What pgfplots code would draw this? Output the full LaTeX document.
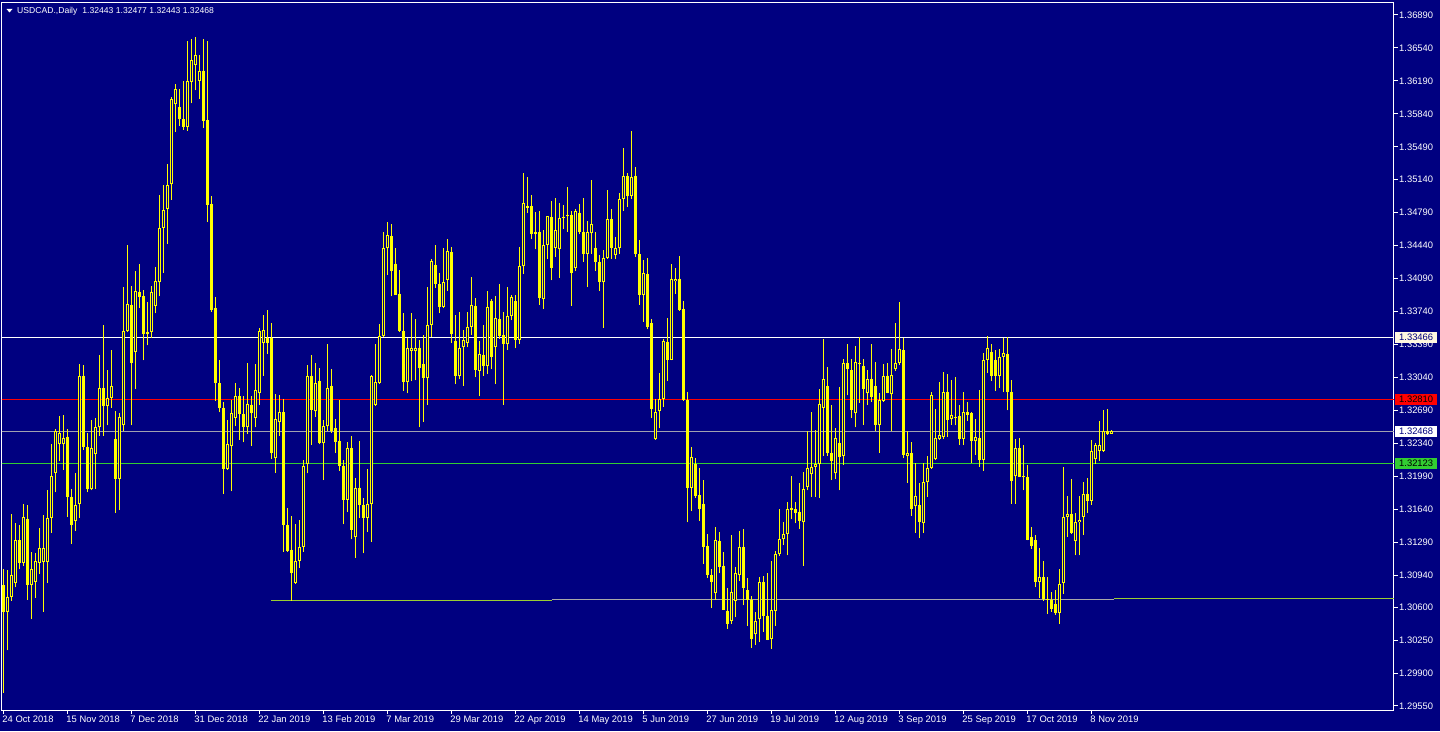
\documentclass[border=0pt]{standalone}
\usepackage{pgfplots}
\pgfplotsset{compat=1.18}
\usepackage{pgfplotstable}
\usepackage{fontspec}
\setmainfont{Liberation Sans}
\definecolor{bg}{HTML}{000080}
\definecolor{cyel}{HTML}{FFFF00}
\definecolor{lred}{HTML}{FF0000}
\definecolor{lgrey}{HTML}{A0A0B0}
\definecolor{lgreen}{HTML}{32CD32}
\definecolor{ygreen}{HTML}{9ACD32}
\definecolor{tgrey}{HTML}{A8A8A8}
\definecolor{cream}{HTML}{FFF8E0}

\pgfplotstableread{
i o h l c
0 1.3083 1.3100 1.2969 1.3055
1 1.3055 1.3099 1.3014 1.3071
2 1.3071 1.3159 1.3067 1.3094
3 1.3086 1.3149 1.3081 1.3131
4 1.3131 1.3147 1.3100 1.3107
5 1.3107 1.3170 1.3104 1.3156
6 1.3154 1.3169 1.3068 1.3084
7 1.3084 1.3119 1.3047 1.3101
8 1.3087 1.3117 1.3070 1.3109
9 1.3107 1.3144 1.3095 1.3123
10 1.3108 1.3158 1.3055 1.3123
11 1.3108 1.3184 1.3086 1.3155
12 1.3155 1.3233 1.3139 1.3199
13 1.3203 1.3249 1.3182 1.3247
14 1.3233 1.3263 1.3215 1.3245
15 1.3233 1.3264 1.3206 1.3240
16 1.3241 1.3249 1.3156 1.3177
17 1.3177 1.3186 1.3127 1.3147
18 1.3152 1.3202 1.3141 1.3169
19 1.3170 1.3318 1.3155 1.3306
20 1.3306 1.3317 1.3227 1.3230
21 1.3230 1.3245 1.3182 1.3186
22 1.3185 1.3259 1.3184 1.3229
23 1.3223 1.3261 1.3186 1.3251
24 1.3251 1.3328 1.3242 1.3293
25 1.3293 1.3360 1.3242 1.3274
26 1.3274 1.3312 1.3253 1.3282
27 1.3282 1.3333 1.3272 1.3295
28 1.3239 1.3268 1.3160 1.3196
29 1.3196 1.3266 1.3163 1.3262
30 1.3253 1.3400 1.3247 1.3353
31 1.3353 1.3445 1.3352 1.3382
32 1.3381 1.3401 1.3253 1.3319
33 1.3331 1.3417 1.3292 1.3396
34 1.3395 1.3425 1.3378 1.3389
35 1.3390 1.3397 1.3322 1.3350
36 1.3350 1.3384 1.3338 1.3352
37 1.3352 1.3401 1.3346 1.3395
38 1.3380 1.3421 1.3372 1.3406
39 1.3405 1.3498 1.3390 1.3463
40 1.3463 1.3508 1.3415 1.3482
41 1.3483 1.3531 1.3446 1.3508
42 1.3509 1.3602 1.3493 1.3600
43 1.3594 1.3616 1.3565 1.3610
44 1.3591 1.3610 1.3571 1.3579
45 1.3578 1.3619 1.3567 1.3570
46 1.3570 1.3661 1.3566 1.3619
47 1.3618 1.3663 1.3595 1.3641
48 1.3636 1.3666 1.3609 1.3646
49 1.3619 1.3647 1.3600 1.3630
50 1.3630 1.3664 1.3569 1.3576
51 1.3577 1.3661 1.3469 1.3487
52 1.3488 1.3497 1.3374 1.3376
53 1.3378 1.3389 1.3279 1.3298
54 1.3298 1.3322 1.3267 1.3272
55 1.3272 1.3278 1.3180 1.3207
56 1.3207 1.3259 1.3206 1.3233
57 1.3231 1.3280 1.3183 1.3266
58 1.3261 1.3298 1.3252 1.3284
59 1.3284 1.3293 1.3238 1.3265
60 1.3265 1.3284 1.3235 1.3251
61 1.3251 1.3319 1.3244 1.3276
62 1.3275 1.3284 1.3231 1.3266
63 1.3261 1.3318 1.3251 1.3291
64 1.3287 1.3357 1.3275 1.3353
65 1.3341 1.3370 1.3306 1.3354
66 1.3346 1.3376 1.3329 1.3341
67 1.3346 1.3362 1.3217 1.3224
68 1.3218 1.3286 1.3203 1.3260
69 1.3257 1.3285 1.3242 1.3267
70 1.3267 1.3281 1.3119 1.3147
71 1.3147 1.3165 1.3119 1.3120
72 1.3121 1.3157 1.3067 1.3096
73 1.3086 1.3148 1.3085 1.3109
74 1.3109 1.3153 1.3102 1.3124
75 1.3124 1.3216 1.3119 1.3210
76 1.3212 1.3317 1.3202 1.3306
77 1.3306 1.3328 1.3232 1.3269
78 1.3268 1.3319 1.3262 1.3298
79 1.3300 1.3314 1.3233 1.3234
80 1.3234 1.3259 1.3195 1.3252
81 1.3252 1.3340 1.3247 1.3293
82 1.3295 1.3313 1.3245 1.3247
83 1.3250 1.3260 1.3224 1.3235
84 1.3236 1.3280 1.3205 1.3210
85 1.3210 1.3216 1.3148 1.3174
86 1.3174 1.3235 1.3161 1.3229
87 1.3229 1.3242 1.3132 1.3142
88 1.3134 1.3197 1.3112 1.3187
89 1.3187 1.3236 1.3155 1.3168
90 1.3168 1.3176 1.3117 1.3155
91 1.3155 1.3207 1.3140 1.3170
92 1.3170 1.3307 1.3129 1.3305
93 1.3275 1.3339 1.3274 1.3299
94 1.3298 1.3361 1.3297 1.3348
95 1.3348 1.3458 1.3347 1.3441
96 1.3441 1.3469 1.3413 1.3455
97 1.3454 1.3467 1.3390 1.3417
98 1.3425 1.3441 1.3392 1.3392
99 1.3393 1.3418 1.3352 1.3353
100 1.3353 1.3372 1.3290 1.3299
101 1.3299 1.3346 1.3287 1.3335
102 1.3332 1.3372 1.3300 1.3335
103 1.3332 1.3366 1.3301 1.3335
104 1.3335 1.3344 1.3251 1.3314
105 1.3318 1.3349 1.3257 1.3303
106 1.3303 1.3400 1.3275 1.3360
107 1.3360 1.3430 1.3347 1.3428
108 1.3423 1.3445 1.3399 1.3403
109 1.3403 1.3415 1.3372 1.3379
110 1.3379 1.3441 1.3378 1.3405
111 1.3408 1.3451 1.3396 1.3438
112 1.3437 1.3443 1.3341 1.3350
113 1.3343 1.3370 1.3297 1.3306
114 1.3305 1.3374 1.3302 1.3335
115 1.3336 1.3354 1.3295 1.3344
116 1.3341 1.3373 1.3336 1.3358
117 1.3358 1.3411 1.3349 1.3381
118 1.3380 1.3388 1.3304 1.3312
119 1.3311 1.3343 1.3284 1.3329
120 1.3328 1.3360 1.3306 1.3316
121 1.3316 1.3396 1.3308 1.3379
122 1.3385 1.3387 1.3313 1.3326
123 1.3336 1.3390 1.3297 1.3367
124 1.3366 1.3403 1.3345 1.3348
125 1.3349 1.3373 1.3275 1.3339
126 1.3339 1.3400 1.3333 1.3369
127 1.3369 1.3392 1.3365 1.3389
128 1.3385 1.3392 1.3335 1.3344
129 1.3344 1.3443 1.3340 1.3422
130 1.3422 1.3521 1.3414 1.3489
131 1.3486 1.3517 1.3479 1.3484
132 1.3486 1.3498 1.3451 1.3456
133 1.3456 1.3480 1.3440 1.3458
134 1.3458 1.3481 1.3381 1.3388
135 1.3387 1.3461 1.3377 1.3445
136 1.3445 1.3476 1.3430 1.3475
137 1.3474 1.3491 1.3407 1.3420
138 1.3442 1.3495 1.3432 1.3461
139 1.3440 1.3489 1.3410 1.3473
140 1.3473 1.3487 1.3462 1.3474
141 1.3476 1.3506 1.3459 1.3477
142 1.3477 1.3481 1.3380 1.3415
143 1.3420 1.3483 1.3417 1.3481
144 1.3479 1.3488 1.3456 1.3459
145 1.3459 1.3495 1.3427 1.3435
146 1.3435 1.3470 1.3400 1.3458
147 1.3457 1.3514 1.3435 1.3467
148 1.3442 1.3458 1.3417 1.3427
149 1.3427 1.3434 1.3396 1.3405
150 1.3405 1.3439 1.3357 1.3431
151 1.3431 1.3503 1.3430 1.3472
152 1.3472 1.3483 1.3430 1.3442
153 1.3434 1.3453 1.3430 1.3441
154 1.3441 1.3500 1.3435 1.3494
155 1.3494 1.3548 1.3481 1.3518
156 1.3518 1.3521 1.3485 1.3497
157 1.3497 1.3566 1.3494 1.3517
158 1.3518 1.3528 1.3432 1.3435
159 1.3435 1.3450 1.3381 1.3392
160 1.3392 1.3429 1.3363 1.3415
161 1.3414 1.3431 1.3355 1.3358
162 1.3362 1.3366 1.3261 1.3270
163 1.3239 1.3281 1.3238 1.3267
164 1.3268 1.3309 1.3250 1.3281
165 1.3281 1.3345 1.3273 1.3343
166 1.3342 1.3367 1.3300 1.3323
167 1.3323 1.3424 1.3322 1.3409
168 1.3406 1.3420 1.3393 1.3409
169 1.3409 1.3433 1.3375 1.3376
170 1.3377 1.3385 1.3279 1.3280
171 1.3280 1.3288 1.3150 1.3187
172 1.3187 1.3230 1.3162 1.3219
173 1.3212 1.3218 1.3176 1.3178
174 1.3179 1.3208 1.3152 1.3164
175 1.3170 1.3195 1.3106 1.3124
176 1.3125 1.3138 1.3091 1.3094
177 1.3094 1.3100 1.3059 1.3087
178 1.3075 1.3145 1.3068 1.3131
179 1.3130 1.3140 1.3096 1.3103
180 1.3104 1.3119 1.3057 1.3057
181 1.3056 1.3080 1.3037 1.3042
182 1.3045 1.3137 1.3042 1.3076
183 1.3067 1.3103 1.3049 1.3096
184 1.3094 1.3141 1.3088 1.3124
185 1.3124 1.3143 1.3062 1.3080
186 1.3078 1.3091 1.3040 1.3068
187 1.3068 1.3072 1.3017 1.3026
188 1.3031 1.3055 1.3020 1.3045
189 1.3047 1.3092 1.3023 1.3087
190 1.3087 1.3093 1.3034 1.3051
191 1.3051 1.3096 1.3025 1.3025
192 1.3026 1.3109 1.3016 1.3057
193 1.3056 1.3120 1.3040 1.3116
194 1.3116 1.3164 1.3114 1.3132
195 1.3132 1.3150 1.3126 1.3138
196 1.3138 1.3172 1.3115 1.3164
197 1.3163 1.3199 1.3154 1.3165
198 1.3164 1.3172 1.3149 1.3160
199 1.3161 1.3192 1.3143 1.3151
200 1.3150 1.3204 1.3104 1.3186
201 1.3188 1.3247 1.3184 1.3208
202 1.3201 1.3267 1.3177 1.3209
203 1.3209 1.3248 1.3177 1.3212
204 1.3212 1.3292 1.3176 1.3276
205 1.3272 1.3345 1.3221 1.3302
206 1.3295 1.3315 1.3221 1.3224
207 1.3224 1.3275 1.3195 1.3215
208 1.3202 1.3250 1.3196 1.3240
209 1.3234 1.3294 1.3184 1.3220
210 1.3221 1.3324 1.3211 1.3319
211 1.3319 1.3339 1.3285 1.3313
212 1.3312 1.3324 1.3261 1.3269
213 1.3266 1.3337 1.3251 1.3320
214 1.3319 1.3347 1.3277 1.3318
215 1.3316 1.3324 1.3254 1.3292
216 1.3287 1.3312 1.3275 1.3302
217 1.3302 1.3340 1.3278 1.3283
218 1.3295 1.3320 1.3247 1.3253
219 1.3253 1.3287 1.3224 1.3280
220 1.3279 1.3318 1.3278 1.3306
221 1.3306 1.3319 1.3287 1.3287
222 1.3286 1.3334 1.3247 1.3307
223 1.3313 1.3362 1.3311 1.3319
224 1.3319 1.3384 1.3317 1.3334
225 1.3333 1.3346 1.3218 1.3222
226 1.3221 1.3247 1.3192 1.3224
227 1.3224 1.3235 1.3157 1.3164
228 1.3167 1.3213 1.3139 1.3178
229 1.3168 1.3192 1.3133 1.3150
230 1.3149 1.3213 1.3139 1.3193
231 1.3193 1.3221 1.3177 1.3208
232 1.3208 1.3288 1.3207 1.3285
233 1.3217 1.3271 1.3216 1.3240
234 1.3239 1.3299 1.3238 1.3243
235 1.3241 1.3310 1.3239 1.3288
236 1.3288 1.3308 1.3241 1.3259
237 1.3260 1.3301 1.3254 1.3264
238 1.3261 1.3304 1.3253 1.3262
239 1.3263 1.3275 1.3232 1.3239
240 1.3239 1.3288 1.3232 1.3267
241 1.3267 1.3278 1.3258 1.3264
242 1.3266 1.3267 1.3213 1.3236
243 1.3236 1.3260 1.3222 1.3241
244 1.3240 1.3291 1.3209 1.3216
245 1.3216 1.3330 1.3205 1.3323
246 1.3323 1.3348 1.3309 1.3335
247 1.3331 1.3339 1.3300 1.3306
248 1.3323 1.3333 1.3290 1.3305
249 1.3305 1.3334 1.3293 1.3326
250 1.3326 1.3346 1.3288 1.3330
251 1.3329 1.3347 1.3269 1.3288
252 1.3288 1.3301 1.3170 1.3194
253 1.3199 1.3239 1.3170 1.3229
254 1.3229 1.3240 1.3198 1.3198
255 1.3198 1.3232 1.3184 1.3199
256 1.3198 1.3211 1.3131 1.3131
257 1.3134 1.3145 1.3122 1.3125
258 1.3131 1.3137 1.3081 1.3087
259 1.3087 1.3123 1.3070 1.3092
260 1.3092 1.3109 1.3067 1.3069
261 1.3069 1.3092 1.3053 1.3068
262 1.3068 1.3076 1.3055 1.3058
263 1.3063 1.3078 1.3052 1.3054
264 1.3054 1.3100 1.3042 1.3085
265 1.3086 1.3209 1.3074 1.3156
266 1.3156 1.3178 1.3135 1.3159
267 1.3159 1.3196 1.3138 1.3139
268 1.3130 1.3160 1.3115 1.3150
269 1.3150 1.3178 1.3115 1.3153
270 1.3156 1.3193 1.3137 1.3180
271 1.3180 1.3197 1.3160 1.3173
272 1.3173 1.3238 1.3169 1.3226
273 1.3217 1.3234 1.3212 1.3232
274 1.3226 1.3258 1.3215 1.3232
275 1.3226 1.3269 1.3225 1.3247
276 1.3247 1.3271 1.3243 1.3244
277 1.32443 1.32477 1.32443 1.32468
}\candles

\begin{document}
\begin{tikzpicture}[x=1pt,y=1pt,font=\fontsize{9.4}{11}\selectfont]
\path[use as bounding box, fill=bg] (0,0) rectangle (1440,731);
\begin{axis}[
  at={(2pt,21pt)}, anchor=south west,
  scale only axis, width=1392pt, height=707pt,
  xmin=-0.325, xmax=347.675,
  ymin=1.295074, ymax=1.370175,
  clip mode=individual,
  axis line style={white, line width=1pt},
  tick style={white, line width=1pt},
  major tick length=4pt,
  tick align=outside,
  xtick pos=bottom, ytick pos=right,
  minor tick num=0,
  xtick={0,16,...,272},
  xticklabels={24 Oct 2018,15 Nov 2018,7 Dec 2018,31 Dec 2018,22 Jan 2019,13 Feb 2019,7 Mar 2019,29 Mar 2019,22 Apr 2019,14 May 2019,5 Jun 2019,27 Jun 2019,19 Jul 2019,12 Aug 2019,3 Sep 2019,25 Sep 2019,17 Oct 2019,8 Nov 2019},
  xticklabel style={anchor=north west, inner sep=0pt, text height=7pt, text depth=2pt, xshift=-1pt, yshift=-1pt, text=white, font=\fontsize{9.4}{11}\selectfont},
  ytick={1.29550,1.29900,1.30250,1.30600,1.30940,1.31290,1.31640,1.31990,1.32340,1.32690,1.33040,1.33390,1.33740,1.34090,1.34440,1.34790,1.35140,1.35490,1.35840,1.36190,1.36540,1.36890},
  yticklabels={1.29550,1.29900,1.30250,1.30600,1.30940,1.31290,1.31640,1.31990,1.32340,1.32690,1.33040,1.33390,1.33740,1.34090,1.34440,1.34790,1.35140,1.35490,1.35840,1.36190,1.36540,1.36890},
  yticklabel style={anchor=west, inner sep=0pt, xshift=1pt, text=white, font=\fontsize{9.4}{11}\selectfont},
]
% horizontal line objects
\addplot[white, line width=1pt] coordinates {(-1,1.33466) (349,1.33466)};
\addplot[lred, line width=1pt] coordinates {(-1,1.32810) (349,1.32810)};
\addplot[lgrey, line width=1pt] coordinates {(-1,1.32468) (349,1.32468)};
\addplot[lgreen, line width=1pt] coordinates {(-1,1.32123) (349,1.32123)};
% support segments
\addplot[ygreen, line width=1pt] coordinates {(66.9,1.30673) (137.1,1.30673)};
\addplot[tgrey, line width=1pt] coordinates {(137.1,1.30683) (277.7,1.30683)};
\addplot[ygreen, line width=1pt] coordinates {(277.7,1.30694) (349,1.30694)};
% candles: wicks, bodies, hollow interiors of rising candles
\addplot[cyel, line width=1pt, quiver={u=0, v=\thisrow{h}-\thisrow{l}}] table[x=i, y=l] {\candles};
\addplot[cyel, line width=3pt, quiver={u=0, v=\thisrow{c}-\thisrow{o}}] table[x=i, y=o] {\candles};
\addplot[bg, line width=1pt, quiver={u=0, v=\thisrow{c}-\thisrow{o}-0.000212},
  restrict expr to domain={\thisrow{c}-\thisrow{o}}{0.00025:1}] table[x=i, y expr=\thisrow{o}+0.000106] {\candles};
% price labels of the lines
\node[anchor=west, xshift=1pt, fill=cream, text=bg, inner sep=0pt, minimum width=42pt, minimum height=11pt] at (axis cs:347.675,1.33466) {1.33466};
\node[anchor=west, xshift=1pt, fill=lred, text=black, inner sep=0pt, minimum width=42pt, minimum height=11pt] at (axis cs:347.675,1.32810) {1.32810};
\node[anchor=west, xshift=1pt, fill=white, text=bg, inner sep=0pt, minimum width=42pt, minimum height=11pt] at (axis cs:347.675,1.32468) {1.32468};
\node[anchor=west, xshift=1pt, fill=lgreen, text=black, inner sep=0pt, minimum width=42pt, minimum height=11pt] at (axis cs:347.675,1.32123) {1.32123};
\end{axis}
\fill[white] (6.5,722) -- (12.5,722) -- (9.5,718.5) -- cycle;
\node[anchor=west, inner sep=0pt, text=white, font=\fontsize{8.6}{10}\selectfont] at (17,720) {USDCAD.,Daily\hspace{5pt}1.32443 1.32477 1.32443 1.32468};
\end{tikzpicture}
\end{document}
